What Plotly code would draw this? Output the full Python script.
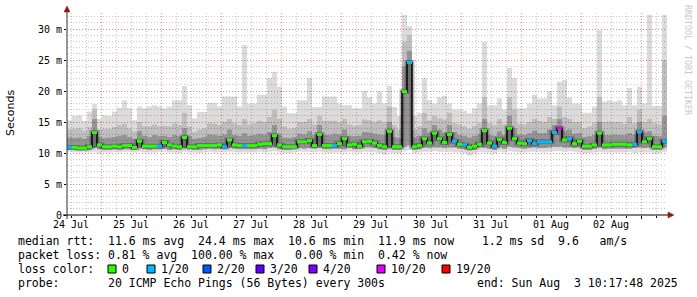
import plotly.graph_objects as go
from datetime import datetime, timedelta

START = datetime(2025, 7, 24, 10, 17, 48)
END = datetime(2025, 8, 3, 10, 17, 48)
BIN = timedelta(hours=2)

# median rtt (ms) per 2h bin
med = [
    10.9, 10.9, 10.8, 10.8, 11.0, 13.3, 11.3, 11.0, 11.0, 11.1,
    11.0, 11.2, 11.2, 10.9, 11.9, 11.1, 11.1, 11.1, 11.1, 11.7,
    11.3, 11.1, 11.0, 12.5, 11.0, 11.0, 11.2, 11.2, 11.2, 11.2,
    11.3, 11.0, 12.1, 11.3, 11.2, 11.2, 11.2, 11.2, 11.4, 11.5,
    11.5, 12.8, 11.3, 11.0, 11.0, 11.0, 11.8, 11.8, 12.0, 11.2,
    13.0, 11.2, 11.2, 11.2, 11.5, 12.3, 11.3, 11.4, 11.1, 11.8,
    11.9, 11.6, 11.2, 11.0, 13.5, 11.0, 11.0, 19.9, 24.6, 11.0,
    11.2, 12.3, 11.6, 13.2, 12.3, 11.7, 13.0, 11.9, 11.4, 11.3,
    10.9, 11.1, 11.4, 13.6, 11.6, 11.1, 12.2, 11.7, 14.0, 12.3,
    11.6, 11.5, 12.0, 11.5, 11.8, 11.8, 11.8, 13.3, 14.0, 12.1,
    12.3, 11.5, 11.9, 11.1, 11.1, 11.3, 13.2, 11.3, 11.3, 11.4,
    11.4, 11.4, 11.3, 11.4, 13.4, 11.8, 12.3, 11.0, 11.0, 11.9,
]
# loss class per bin (index into loss_labels)
loss = [
    1, 0, 0, 0, 0, 0, 0, 0, 0, 0,
    0, 0, 0, 0, 0, 0, 0, 0, 1, 0,
    0, 0, 0, 0, 0, 0, 0, 0, 0, 0,
    0, 1, 0, 0, 0, 1, 0, 0, 0, 0,
    0, 0, 0, 0, 0, 0, 0, 0, 0, 0,
    0, 0, 0, 1, 0, 0, 0, 0, 0, 0,
    0, 0, 0, 0, 0, 0, 0, 0, 1, 0,
    0, 0, 0, 0, 0, 0, 0, 1, 0, 1,
    0, 0, 0, 0, 0, 1, 0, 0, 0, 0,
    0, 0, 1, 1, 1, 1, 1, 1, 5, 0,
    1, 0, 0, 0, 0, 0, 0, 0, 0, 0,
    0, 0, 0, 1, 1, 0, 0, 0, 0, 1,
]
# smoke: min, lower quartile, upper quartile, 90th pct, max ping (ms)
lo = [
    10.2, 10.1, 10.1, 10.1, 10.1, 10.2, 9.9, 10.1, 10.1, 10.2,
    10.1, 10.2, 10.2, 10.1, 10.2, 10.1, 10.1, 10.1, 10.2, 10.2,
    10.1, 10.1, 10.0, 10.2, 10.1, 10.1, 10.0, 10.1, 10.2, 10.1,
    10.2, 10.1, 10.2, 10.2, 10.1, 10.1, 10.1, 10.1, 10.2, 10.1,
    10.2, 10.3, 10.1, 10.0, 10.0, 10.1, 10.2, 10.2, 10.2, 10.1,
    10.2, 10.1, 10.0, 10.1, 10.1, 10.1, 10.2, 10.1, 10.1, 10.2,
    10.2, 10.2, 10.0, 9.8, 10.1, 10.0, 9.9, 10.3, 10.5, 10.0,
    10.1, 10.2, 10.2, 10.3, 10.2, 10.2, 10.2, 10.1, 10.1, 10.0,
    9.6, 9.9, 10.2, 10.1, 10.1, 9.9, 10.2, 10.1, 10.3, 10.2,
    10.1, 10.1, 10.2, 10.2, 10.2, 10.1, 10.2, 10.3, 10.3, 10.2,
    10.3, 10.2, 10.1, 9.9, 10.0, 10.1, 10.2, 10.1, 10.1, 10.1,
    10.1, 10.1, 10.2, 10.0, 10.1, 10.1, 10.1, 9.9, 10.0, 10.2,
]
p25 = [
    10.5, 10.5, 10.4, 10.4, 10.5, 10.8, 10.6, 10.5, 10.5, 10.6,
    10.5, 10.6, 10.6, 10.5, 10.8, 10.6, 10.5, 10.6, 10.6, 10.7,
    10.5, 10.6, 10.5, 10.8, 10.6, 10.5, 10.5, 10.6, 10.7, 10.6,
    10.7, 10.6, 10.8, 10.7, 10.6, 10.6, 10.6, 10.6, 10.7, 10.6,
    10.8, 10.9, 10.6, 10.5, 10.5, 10.6, 10.8, 10.7, 10.8, 10.7,
    10.9, 10.6, 10.6, 10.7, 10.7, 10.6, 10.8, 10.6, 10.7, 10.9,
    10.9, 10.8, 10.6, 10.5, 10.8, 10.5, 10.5, 11.0, 11.2, 10.5,
    10.6, 10.9, 10.8, 10.9, 10.9, 10.8, 10.9, 10.9, 10.7, 10.6,
    10.4, 10.5, 10.9, 10.8, 10.7, 10.5, 10.9, 10.7, 11.0, 10.9,
    10.8, 10.7, 10.8, 10.9, 10.8, 10.8, 10.9, 11.0, 11.0, 10.9,
    10.9, 10.8, 10.9, 10.5, 10.5, 10.7, 10.9, 10.6, 10.7, 10.7,
    10.7, 10.7, 10.7, 10.8, 10.9, 10.8, 10.9, 10.5, 10.5, 10.9,
]
p75 = [
    12.5, 12.4, 12.5, 12.3, 12.7, 15.5, 12.6, 12.4, 12.5, 12.6,
    12.8, 12.9, 12.6, 12.3, 13.5, 12.8, 12.6, 12.9, 12.7, 12.8,
    12.6, 12.9, 12.7, 14.0, 12.7, 12.3, 12.4, 12.6, 13.0, 12.9,
    12.8, 13.0, 13.8, 12.9, 12.8, 13.2, 12.8, 12.9, 13.1, 13.0,
    13.4, 14.5, 13.0, 12.5, 12.4, 12.6, 13.1, 13.0, 13.5, 12.9,
    14.5, 12.9, 12.9, 13.1, 13.0, 13.8, 12.8, 12.7, 12.8, 13.4,
    13.3, 13.1, 13.0, 12.9, 15.0, 12.6, 12.4, 24.0, 26.5, 12.5,
    12.8, 14.0, 13.3, 14.5, 13.8, 13.3, 14.5, 13.4, 12.9, 12.8,
    12.5, 12.8, 13.0, 15.5, 12.9, 12.8, 13.5, 12.9, 16.0, 14.0,
    13.0, 12.9, 13.2, 13.6, 13.2, 13.2, 13.8, 14.5, 15.5, 13.6,
    13.8, 13.1, 13.2, 12.6, 12.7, 12.9, 15.0, 12.9, 12.9, 13.0,
    12.9, 12.9, 13.2, 13.0, 15.0, 13.3, 13.5, 12.8, 12.7, 16.0,
]
p90 = [
    13.8, 13.9, 14.0, 13.6, 14.2, 17.0, 13.8, 13.9, 13.9, 14.2,
    14.5, 14.7, 14.0, 13.5, 15.0, 14.3, 14.3, 14.6, 14.3, 14.4,
    14.3, 14.8, 14.5, 16.5, 14.3, 13.4, 13.8, 14.0, 14.8, 14.7,
    14.5, 15.0, 15.5, 14.8, 14.5, 15.5, 14.6, 14.8, 15.2, 15.0,
    15.8, 17.0, 15.5, 14.3, 13.9, 14.1, 15.0, 15.0, 15.5, 14.6,
    16.0, 15.2, 15.2, 15.2, 14.9, 15.5, 14.6, 14.4, 14.5, 15.4,
    15.3, 15.0, 15.3, 14.9, 17.5, 14.5, 13.8, 28.0, 29.0, 13.8,
    14.3, 16.5, 15.3, 16.0, 15.6, 15.4, 16.5, 14.8, 14.6, 14.3,
    13.9, 14.4, 14.8, 19.0, 14.8, 14.5, 15.5, 14.6, 19.0, 17.0,
    14.7, 14.6, 15.0, 15.5, 15.2, 15.0, 15.8, 15.5, 17.5, 15.8,
    15.5, 15.0, 15.0, 14.0, 14.3, 14.8, 19.0, 15.0, 15.1, 15.0,
    15.0, 14.7, 15.8, 14.8, 17.0, 15.0, 15.5, 14.8, 14.6, 25.0,
]
hi = [
    15.3, 16.0, 16.1, 15.2, 16.7, 17.9, 15.5, 16.1, 16.0, 16.7,
    17.3, 18.5, 17.2, 15.3, 17.5, 17.2, 17.5, 17.7, 17.5, 17.2,
    17.5, 18.5, 18.5, 20.8, 17.7, 15.6, 16.6, 16.6, 18.1, 18.1,
    17.5, 19.1, 19.1, 19.1, 17.5, 27.4, 18.0, 18.0, 19.4, 19.4,
    22.1, 23.1, 20.7, 17.5, 16.4, 16.4, 18.5, 18.5, 22.1, 17.4,
    17.4, 19.1, 19.1, 19.1, 18.0, 17.7, 17.7, 17.2, 17.2, 20.0,
    19.0, 18.0, 19.9, 18.0, 20.8, 17.4, 16.0, 32.3, 30.5, 16.0,
    16.5, 22.1, 18.5, 18.0, 19.0, 19.2, 18.0, 17.0, 17.0, 16.8,
    16.4, 17.2, 18.0, 27.9, 17.7, 17.7, 18.8, 17.0, 23.7, 22.1,
    17.2, 17.2, 18.0, 19.4, 18.8, 18.8, 19.9, 17.7, 21.5, 21.8,
    18.9, 18.0, 18.0, 16.5, 16.5, 17.5, 29.8, 18.3, 18.5, 18.3,
    18.5, 17.7, 20.5, 17.7, 20.7, 18.0, 32.3, 17.6, 17.6, 32.3,
]

loss_labels = ["0", "1/20", "2/20", "3/20", "4/20", "10/20", "19/20"]
loss_colors = ["#26ff00", "#00b8ff", "#0059ff", "#5e00ff", "#7e00ff", "#dd00ff", "#ff0000"]
day_labels = ["24 Jul", "25 Jul", "26 Jul", "27 Jul", "28 Jul", "29 Jul",
              "30 Jul", "31 Jul", "01 Aug", "02 Aug"]
ytick_vals = [0, 5, 10, 15, 20, 25, 30]
ytick_text = ["0", "5 m", "10 m", "15 m", "20 m", "25 m", "30 m"]

legend_rtt = "median rtt:  11.6 ms avg  24.4 ms max  10.6 ms min  11.9 ms now    1.2 ms sd  9.6   am/s"
legend_loss = "packet loss: 0.81 % avg  100.00 % max   0.00 % min  0.42 % now"
legend_probe = "probe:       20 ICMP Echo Pings (56 Bytes) every 300s"
legend_end = "end: Sun Aug  3 10:17:48 2025"

W, H = 697, 297
ML, MR, MT, MB = 67, 30, 13, 82
PW = W - ML - MR
PH = H - MT - MB
MONO = "DejaVu Sans Mono"


def px(x):
    return (x - ML) / PW


def py(y):
    return (H - MB - y) / PH


def nb(s):
    return s.replace(" ", "\u00a0")


edges = [START + i * BIN for i in range(len(med) + 1)]


def step(arr):
    return list(arr) + [arr[-1]]


fig = go.Figure()


def band(lower, upper, color):
    fig.add_trace(go.Scatter(x=edges, y=step(lower), mode="lines",
                             line=dict(width=0, shape="hv"), hoverinfo="skip", showlegend=False))
    fig.add_trace(go.Scatter(x=edges, y=step(upper), mode="lines",
                             line=dict(width=0, shape="hv"), fill="tonexty", fillcolor=color,
                             hoverinfo="skip", showlegend=False))


# translucent smoke layers so the grid shows through, darker toward the median
band(lo, hi, "rgba(0,0,0,0.14)")
band(p25, p90, "rgba(0,0,0,0.13)")
band(p25, p75, "rgba(0,0,0,0.22)")

fig.add_trace(go.Scatter(x=edges, y=step(med), mode="lines",
                         line=dict(color="rgba(20,20,20,0.30)", width=5, shape="hv"),
                         hoverinfo="skip", showlegend=False))
fig.add_trace(go.Scatter(x=edges, y=step(med), mode="lines",
                         line=dict(color="#000000", width=1.5, shape="hv"),
                         hoverinfo="skip", showlegend=False))

for k, col in enumerate(loss_colors):
    xs, ys = [], []
    for i, (m, l) in enumerate(zip(med, loss)):
        if l == k:
            xs += [edges[i], edges[i + 1], None]
            ys += [m, m, None]
    if xs:
        fig.add_trace(go.Scatter(x=xs, y=ys, mode="lines", line=dict(color=col, width=3),
                                 hoverinfo="skip", showlegend=False))

annotations = []
for d, lab in enumerate(day_labels):
    noon = datetime(2025, 7, 24, 12, 0, 0) + timedelta(days=d)
    annotations.append(dict(x=noon, y=py(224), xref="x", yref="paper", text=nb(lab),
                            showarrow=False, xanchor="center", yanchor="middle",
                            font=dict(family=MONO, size=10, color="#000")))

annotations.append(dict(x=px(10), y=py(113), xref="paper", yref="paper", text="Seconds",
                        textangle=-90, showarrow=False, xanchor="center", yanchor="middle",
                        font=dict(family="DejaVu Sans", size=11, color="#000")))
annotations.append(dict(x=px(688), y=py(60), xref="paper", yref="paper",
                        text=nb("RRDTOOL / TOBI OETIKER"), textangle=90, showarrow=False,
                        xanchor="center", yanchor="middle",
                        font=dict(family=MONO, size=8.3, color="#c8c8c8")))

LEG = dict(family=MONO, size=11.5, color="#000")
for txt, yy in [(legend_rtt, 240.7), (legend_loss, 255), (legend_probe, 283.3)]:
    annotations.append(dict(x=px(16), y=py(yy), xref="paper", yref="paper", text=nb(txt),
                            showarrow=False, xanchor="left", yanchor="middle", font=LEG))
annotations.append(dict(x=px(680), y=py(283.3), xref="paper", yref="paper", text=nb(legend_end),
                        showarrow=False, xanchor="right", yanchor="middle", font=LEG))
annotations.append(dict(x=px(16), y=py(268.7), xref="paper", yref="paper", text=nb("loss color:"),
                        showarrow=False, xanchor="left", yanchor="middle", font=LEG))

shapes = []
sq_x = [108, 147, 203, 256, 309, 377, 442]
for sx, lab, col in zip(sq_x, loss_labels, loss_colors):
    shapes.append(dict(type="rect", xref="paper", yref="paper",
                       x0=px(sx), x1=px(sx + 8), y0=py(273), y1=py(265),
                       fillcolor=col, line=dict(color="#000", width=1)))
    annotations.append(dict(x=px(sx + 12), y=py(268.7), xref="paper", yref="paper", text=lab,
                            showarrow=False, xanchor="left", yanchor="middle", font=LEG))

# axis lines and arrows
AR = "#8b1a1a"
shapes.append(dict(type="line", xref="paper", yref="paper", x0=px(67), x1=px(67),
                   y0=py(219), y1=py(9), line=dict(color="#333", width=1)))
shapes.append(dict(type="path", xref="paper", yref="paper",
                   path=f"M {px(64)} {py(12)} L {px(70)} {py(12)} L {px(67)} {py(6)} Z",
                   fillcolor=AR, line=dict(color=AR, width=0.5)))
shapes.append(dict(type="line", xref="paper", yref="paper", x0=px(63), x1=px(670),
                   y0=py(215), y1=py(215), line=dict(color="#000", width=1)))
shapes.append(dict(type="path", xref="paper", yref="paper",
                   path=f"M {px(668)} {py(212)} L {px(668)} {py(218)} L {px(674)} {py(215)} Z",
                   fillcolor=AR, line=dict(color=AR, width=0.5)))

fig.update_layout(
    width=W, height=H, autosize=False,
    margin=dict(l=ML, r=MR, t=MT, b=MB, pad=0),
    paper_bgcolor="#ffffff", plot_bgcolor="#ffffff",
    showlegend=False,
    annotations=annotations, shapes=shapes,
    xaxis=dict(type="date", range=[START, END], tickmode="linear",
               tick0="2025-07-25 00:00:00", dtick=86400000,
               showticklabels=False, showgrid=True,
               gridcolor="rgba(235,110,110,0.75)", griddash="1px,2px", gridwidth=1,
               ticks="outside", ticklen=3, tickcolor="#000",
               minor=dict(tick0="2025-07-25 00:00:00", dtick=6 * 3600000, showgrid=True,
                          gridcolor="#c8c8c8", griddash="1px,2px", ticks="outside",
                          ticklen=2, tickcolor="#000"),
               showline=False, zeroline=False, fixedrange=True),
    yaxis=dict(range=[0, 32.58], tickmode="array", tickvals=ytick_vals, ticktext=ytick_text,
               showgrid=True, gridcolor="rgba(235,110,110,0.75)", griddash="1px,2px",
               ticks="outside", ticklen=2, tickcolor="#000",
               tickfont=dict(family=MONO, size=10, color="#000"),
               minor=dict(tick0=0, dtick=1, showgrid=True, gridcolor="#c8c8c8",
                          griddash="1px,2px"),
               showline=False, zeroline=False, fixedrange=True),
)

fig.write_html("out.html")
